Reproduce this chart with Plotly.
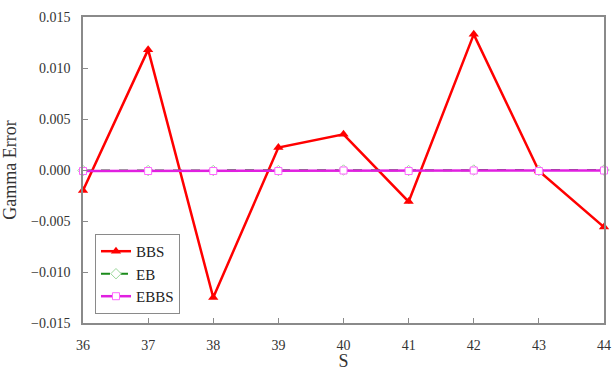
import plotly.graph_objects as go

s_values = [36, 37, 38, 39, 40, 41, 42, 43, 44]
bbs = [-0.0020, 0.0118, -0.0125, 0.0022, 0.0035, -0.0031, 0.0133, -0.0001, -0.0056]
eb = [-0.00005, -0.00005, -0.00005, -0.00005, 0.0, -0.00005, 0.0, -0.00005, 0.0]
ebbs = [-0.0001, -0.0001, -0.0001, -0.0001, -0.00005, -0.0001, -0.00005, -0.0001, -0.00005]
y_ticks = [-0.015, -0.010, -0.005, 0.0, 0.005, 0.010, 0.015]

serif = "Times New Roman, Liberation Serif, serif"
axis_grey = "#8a8a8a"

fig = go.Figure()
fig.add_trace(go.Scatter(
    x=s_values, y=bbs, name="BBS", mode="lines+markers",
    line=dict(color="#ff0000", width=2.5),
    marker=dict(symbol="triangle-up", size=9, color="#ff0000"),
    cliponaxis=False,
))
fig.add_trace(go.Scatter(
    x=s_values, y=eb, name="EB", mode="lines+markers",
    line=dict(color="#1a8a1a", width=2, dash="dash"),
    marker=dict(symbol="diamond", size=8, color="white",
                line=dict(color="#9ad89a", width=1)),
    cliponaxis=False,
))
fig.add_trace(go.Scatter(
    x=s_values, y=ebbs, name="EBBS", mode="lines+markers",
    line=dict(color="#e020e0", width=2.5),
    marker=dict(symbol="square", size=7, color="white",
                line=dict(color="#ff66ff", width=1)),
    cliponaxis=False,
))

fig.update_layout(
    width=612, height=371,
    margin=dict(l=83, r=8, t=17, b=48),
    paper_bgcolor="white", plot_bgcolor="white",
    font=dict(family=serif, size=14, color="#333333"),
    showlegend=True,
    legend=dict(
        x=0.023, y=0.291, xanchor="left", yanchor="top",
        bordercolor=axis_grey, borderwidth=1, bgcolor="white",
        font=dict(family=serif, size=15, color="#222222"),
        itemwidth=30, tracegroupgap=0,
    ),
    xaxis=dict(
        range=[36, 44], tickmode="array", tickvals=s_values,
        ticks="inside", ticklen=5, tickcolor=axis_grey,
        showline=True, mirror=True, linecolor=axis_grey, linewidth=1.5,
        showgrid=False, zeroline=False, ticklabelstandoff=8, automargin=False,
        title=dict(text="S", font=dict(family=serif, size=18, color="#333333"), standoff=14),
    ),
    yaxis=dict(
        range=[-0.015, 0.015], tickmode="array", tickvals=y_ticks,
        tickformat=".3f",
        ticks="inside", ticklen=5, tickcolor=axis_grey,
        showline=True, mirror=True, linecolor=axis_grey, linewidth=1.5,
        showgrid=False, zeroline=False, ticklabelstandoff=8, automargin=False,
        title=dict(text="Gamma Error", font=dict(family=serif, size=18, color="#333333"), standoff=12),
    ),
)

fig.write_html("out.html")
